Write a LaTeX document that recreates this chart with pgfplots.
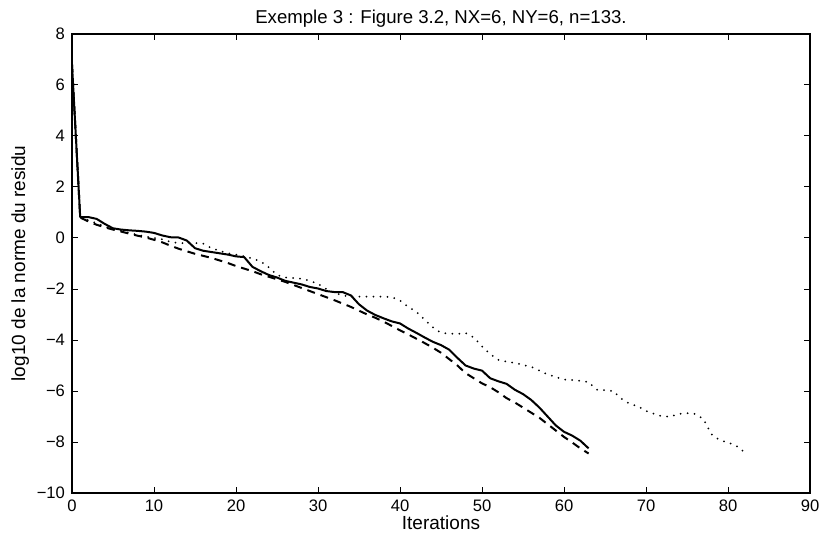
\documentclass[border=0pt]{standalone}
\usepackage{fontspec}
\setmainfont{Liberation Sans}
\usepackage{pgfplots}
\pgfplotsset{compat=1.18}
\begin{document}
\begin{tikzpicture}
\begin{axis}[
  scale only axis, width=369pt, height=229.5pt,
  xmin=0, xmax=90, ymin=-10, ymax=8,
  xtick={0,10,...,90}, ytick={-10,-8,...,8},
  yticklabels={−10,−8,−6,−4,−2,0,2,4,6,8},
  tick align=inside, major tick length=3pt,
  tick style={black, line width=0.5pt},
  axis line style={black, line width=0.6pt},
  ticklabel style={font=\fontsize{8.3}{9}\selectfont},
  /pgf/number format/assume math mode=true,
  title={Exemple 3 : Figure 3.2, NX=6, NY=6, n=133.},
  title style={font=\fontsize{9.3}{10}\selectfont, at={(0.5,1)}, anchor=base, yshift=-1pt, inner sep=0pt},
  xlabel={Iterations}, ylabel={log10 de la norme du residu},
  xlabel style={font=\fontsize{9.5}{10}\selectfont, yshift=5pt},
  ylabel style={font=\fontsize{9.5}{10}\selectfont, yshift=-3pt},
  clip=false,
]
\coordinate (sw) at (rel axis cs:0,0);
\coordinate (ne) at (rel axis cs:1,1);
% solid
\addplot[black, line width=1pt, line join=round] coordinates {
(0,6.8)(1,0.82)(2,0.82)(3,0.75)(4,0.55)(5,0.38)(6,0.33)(7,0.3)(8,0.28)(9,0.25)
(10,0.2)(11,0.1)(12,0.03)(13,0.02)(14,-0.1)(15,-0.4)(16,-0.5)(17,-0.55)(18,-0.6)(19,-0.65)
(20,-0.72)(21,-0.75)(22,-1.13)(23,-1.3)(24,-1.45)(25,-1.55)(26,-1.68)(27,-1.75)(28,-1.82)(29,-1.92)
(30,-1.98)(31,-2.08)(32,-2.12)(33,-2.12)(34,-2.25)(35,-2.6)(36,-2.85)(37,-3.02)(38,-3.15)(39,-3.27)
(40,-3.35)(41,-3.55)(42,-3.72)(43,-3.9)(44,-4.07)(45,-4.2)(46,-4.38)(47,-4.7)(48,-5.0)(49,-5.12)
(50,-5.2)(51,-5.5)(52,-5.62)(53,-5.72)(54,-5.95)(55,-6.12)(56,-6.35)(57,-6.65)(58,-7.0)(59,-7.35)
(60,-7.6)(61,-7.75)(62,-7.95)(63,-8.25)};
% dashed
\addplot[black, line width=1pt, dash pattern=on 4pt off 3pt] coordinates {
(0,6.8)(1,0.8)(2,0.65)(3,0.52)(4,0.42)(5,0.33)(6,0.25)(7,0.17)(8,0.09)(9,0.02)
(10,-0.07)(11,-0.17)(12,-0.3)(13,-0.42)(14,-0.52)(15,-0.62)(16,-0.7)(17,-0.78)(18,-0.88)(19,-0.98)
(20,-1.1)(21,-1.2)(22,-1.3)(23,-1.42)(24,-1.52)(25,-1.62)(26,-1.72)(27,-1.84)(28,-1.96)(29,-2.08)
(30,-2.2)(31,-2.32)(32,-2.44)(33,-2.57)(34,-2.7)(35,-2.85)(36,-3.0)(37,-3.13)(38,-3.28)(39,-3.45)
(40,-3.62)(41,-3.78)(42,-3.95)(43,-4.12)(44,-4.3)(45,-4.5)(46,-4.75)(47,-5.0)(48,-5.3)(49,-5.5)
(50,-5.7)(51,-5.85)(52,-6.05)(53,-6.28)(54,-6.45)(55,-6.65)(56,-6.85)(57,-7.05)(58,-7.3)(59,-7.55)
(60,-7.8)(61,-8.02)(62,-8.25)(63,-8.45)};
% dotted
\addplot[black, line width=1pt, line cap=round, dash pattern=on 0pt off 3.5pt] coordinates {
(0,6.8)(1,0.8)(2,0.7)(3,0.58)(4,0.45)(5,0.35)(6,0.28)(7,0.2)(8,0.12)(9,0.05)
(10,0.0)(11,-0.05)(12,-0.15)(13,-0.2)(14,-0.2)(15,-0.2)(16,-0.22)(17,-0.4)(18,-0.5)(19,-0.6)
(20,-0.65)(21,-0.72)(22,-0.8)(23,-0.92)(24,-1.15)(25,-1.45)(26,-1.55)(27,-1.57)(28,-1.6)(29,-1.68)
(30,-1.8)(31,-2.0)(32,-2.15)(33,-2.25)(34,-2.3)(35,-2.3)(36,-2.3)(37,-2.3)(38,-2.3)(39,-2.32)
(40,-2.45)(41,-2.7)(42,-2.9)(43,-3.2)(44,-3.5)(45,-3.72)(46,-3.75)(47,-3.76)(48,-3.73)(49,-3.9)
(50,-4.25)(51,-4.55)(52,-4.78)(53,-4.85)(54,-4.9)(55,-4.98)(56,-5.05)(57,-5.2)(58,-5.35)(59,-5.45)
(60,-5.55)(61,-5.57)(62,-5.6)(63,-5.65)(64,-5.95)(65,-5.97)(66,-6.0)(67,-6.3)(68,-6.5)(69,-6.6)
(70,-6.78)(71,-6.9)(72,-7.0)(73,-7.0)(74,-6.9)(75,-6.87)(76,-6.9)(77,-7.1)(78,-7.7)(79,-7.93)
(80,-8.02)(81,-8.15)(82,-8.4)};
\end{axis}
\pgfresetboundingbox
\path[use as bounding box] ([xshift=-36pt,yshift=-20pt]sw) rectangle ([xshift=6.5pt,yshift=17pt]ne);
\end{tikzpicture}
\end{document}
